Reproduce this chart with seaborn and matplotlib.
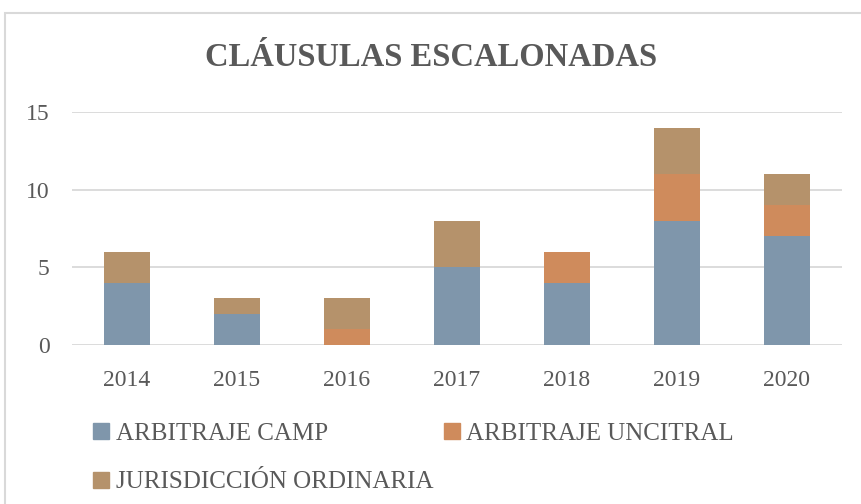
import matplotlib.pyplot as plt
import numpy as np
import pandas as pd
import seaborn as sns
from matplotlib.lines import Line2D
from matplotlib.patches import Rectangle

years = ['2014', '2015', '2016', '2017', '2018', '2019', '2020']
camp = [4, 2, 0, 5, 4, 8, 7]
uncitral = [0, 0, 1, 0, 2, 3, 2]
ordinaria = [2, 1, 2, 3, 0, 3, 2]

labels = ['ARBITRAJE CAMP', 'ARBITRAJE UNCITRAL', 'JURISDICCIÓN ORDINARIA']
colors = ['#7f96ab', '#cf8b5c', '#b5926b']
text_color = '#595959'

sns.set_style('white')
plt.rcParams['font.family'] = ['Liberation Serif', 'DejaVu Serif']

df = pd.DataFrame({'year': years, 'camp': camp, 'uncitral': uncitral, 'ordinaria': ordinaria})
# acumulados para apilar (se dibuja del total hacia abajo)
df['c1'] = df['camp']
df['c2'] = df['camp'] + df['uncitral']
df['c3'] = df['c2'] + df['ordinaria']

fig = plt.figure(figsize=(8.62, 5.04), dpi=100)
fig.patches.append(Rectangle((5 / 862, -0.01), 1.0, 1 - 13 / 504 + 0.01, transform=fig.transFigure,
                             fill=False, edgecolor='#d9d9d9', linewidth=1.5))
ax = fig.add_axes([72 / 862, 1 - 345 / 504, 770 / 862, 233 / 504])

for col, c in zip(['c3', 'c2', 'c1'], [colors[2], colors[1], colors[0]]):
    sns.barplot(data=df, x='year', y=col, color=c, width=0.41, saturation=1,
                edgecolor='none', ax=ax, zorder=3)

ax.set_ylim(0, 15)
ax.set_yticks([0, 5, 10, 15])
ax.yaxis.grid(True, color='#d9d9d9', linewidth=1.3, zorder=0)
ax.set_axisbelow(True)
sns.despine(ax=ax, left=True, bottom=True)
ax.set_xlabel('')
ax.set_ylabel('')
ax.tick_params(axis='both', length=0, labelsize=17, labelcolor=text_color)
ax.tick_params(axis='y', pad=16)
ax.tick_params(axis='x', pad=18)

fig.text(0.5, 1 - 57 / 504, 'CLÁUSULAS ESCALONADAS', ha='center', va='center',
         fontsize=23.5, fontweight='bold', color=text_color)

handles = [Line2D([], [], marker='s', linestyle='none', markersize=11, color=c) for c in colors]
order = [0, 2, 1]
leg = fig.legend([handles[i] for i in order], [labels[i] for i in order],
                 loc='upper left', bbox_to_anchor=(84 / 862, 1 - 412 / 504), ncol=2,
                 frameon=False, fontsize=18, handlelength=0.6, handletextpad=0.3,
                 columnspacing=0.4, labelspacing=1.05, borderaxespad=0)
for t in leg.get_texts():
    t.set_color(text_color)

fig.savefig('out.png', dpi=100)
